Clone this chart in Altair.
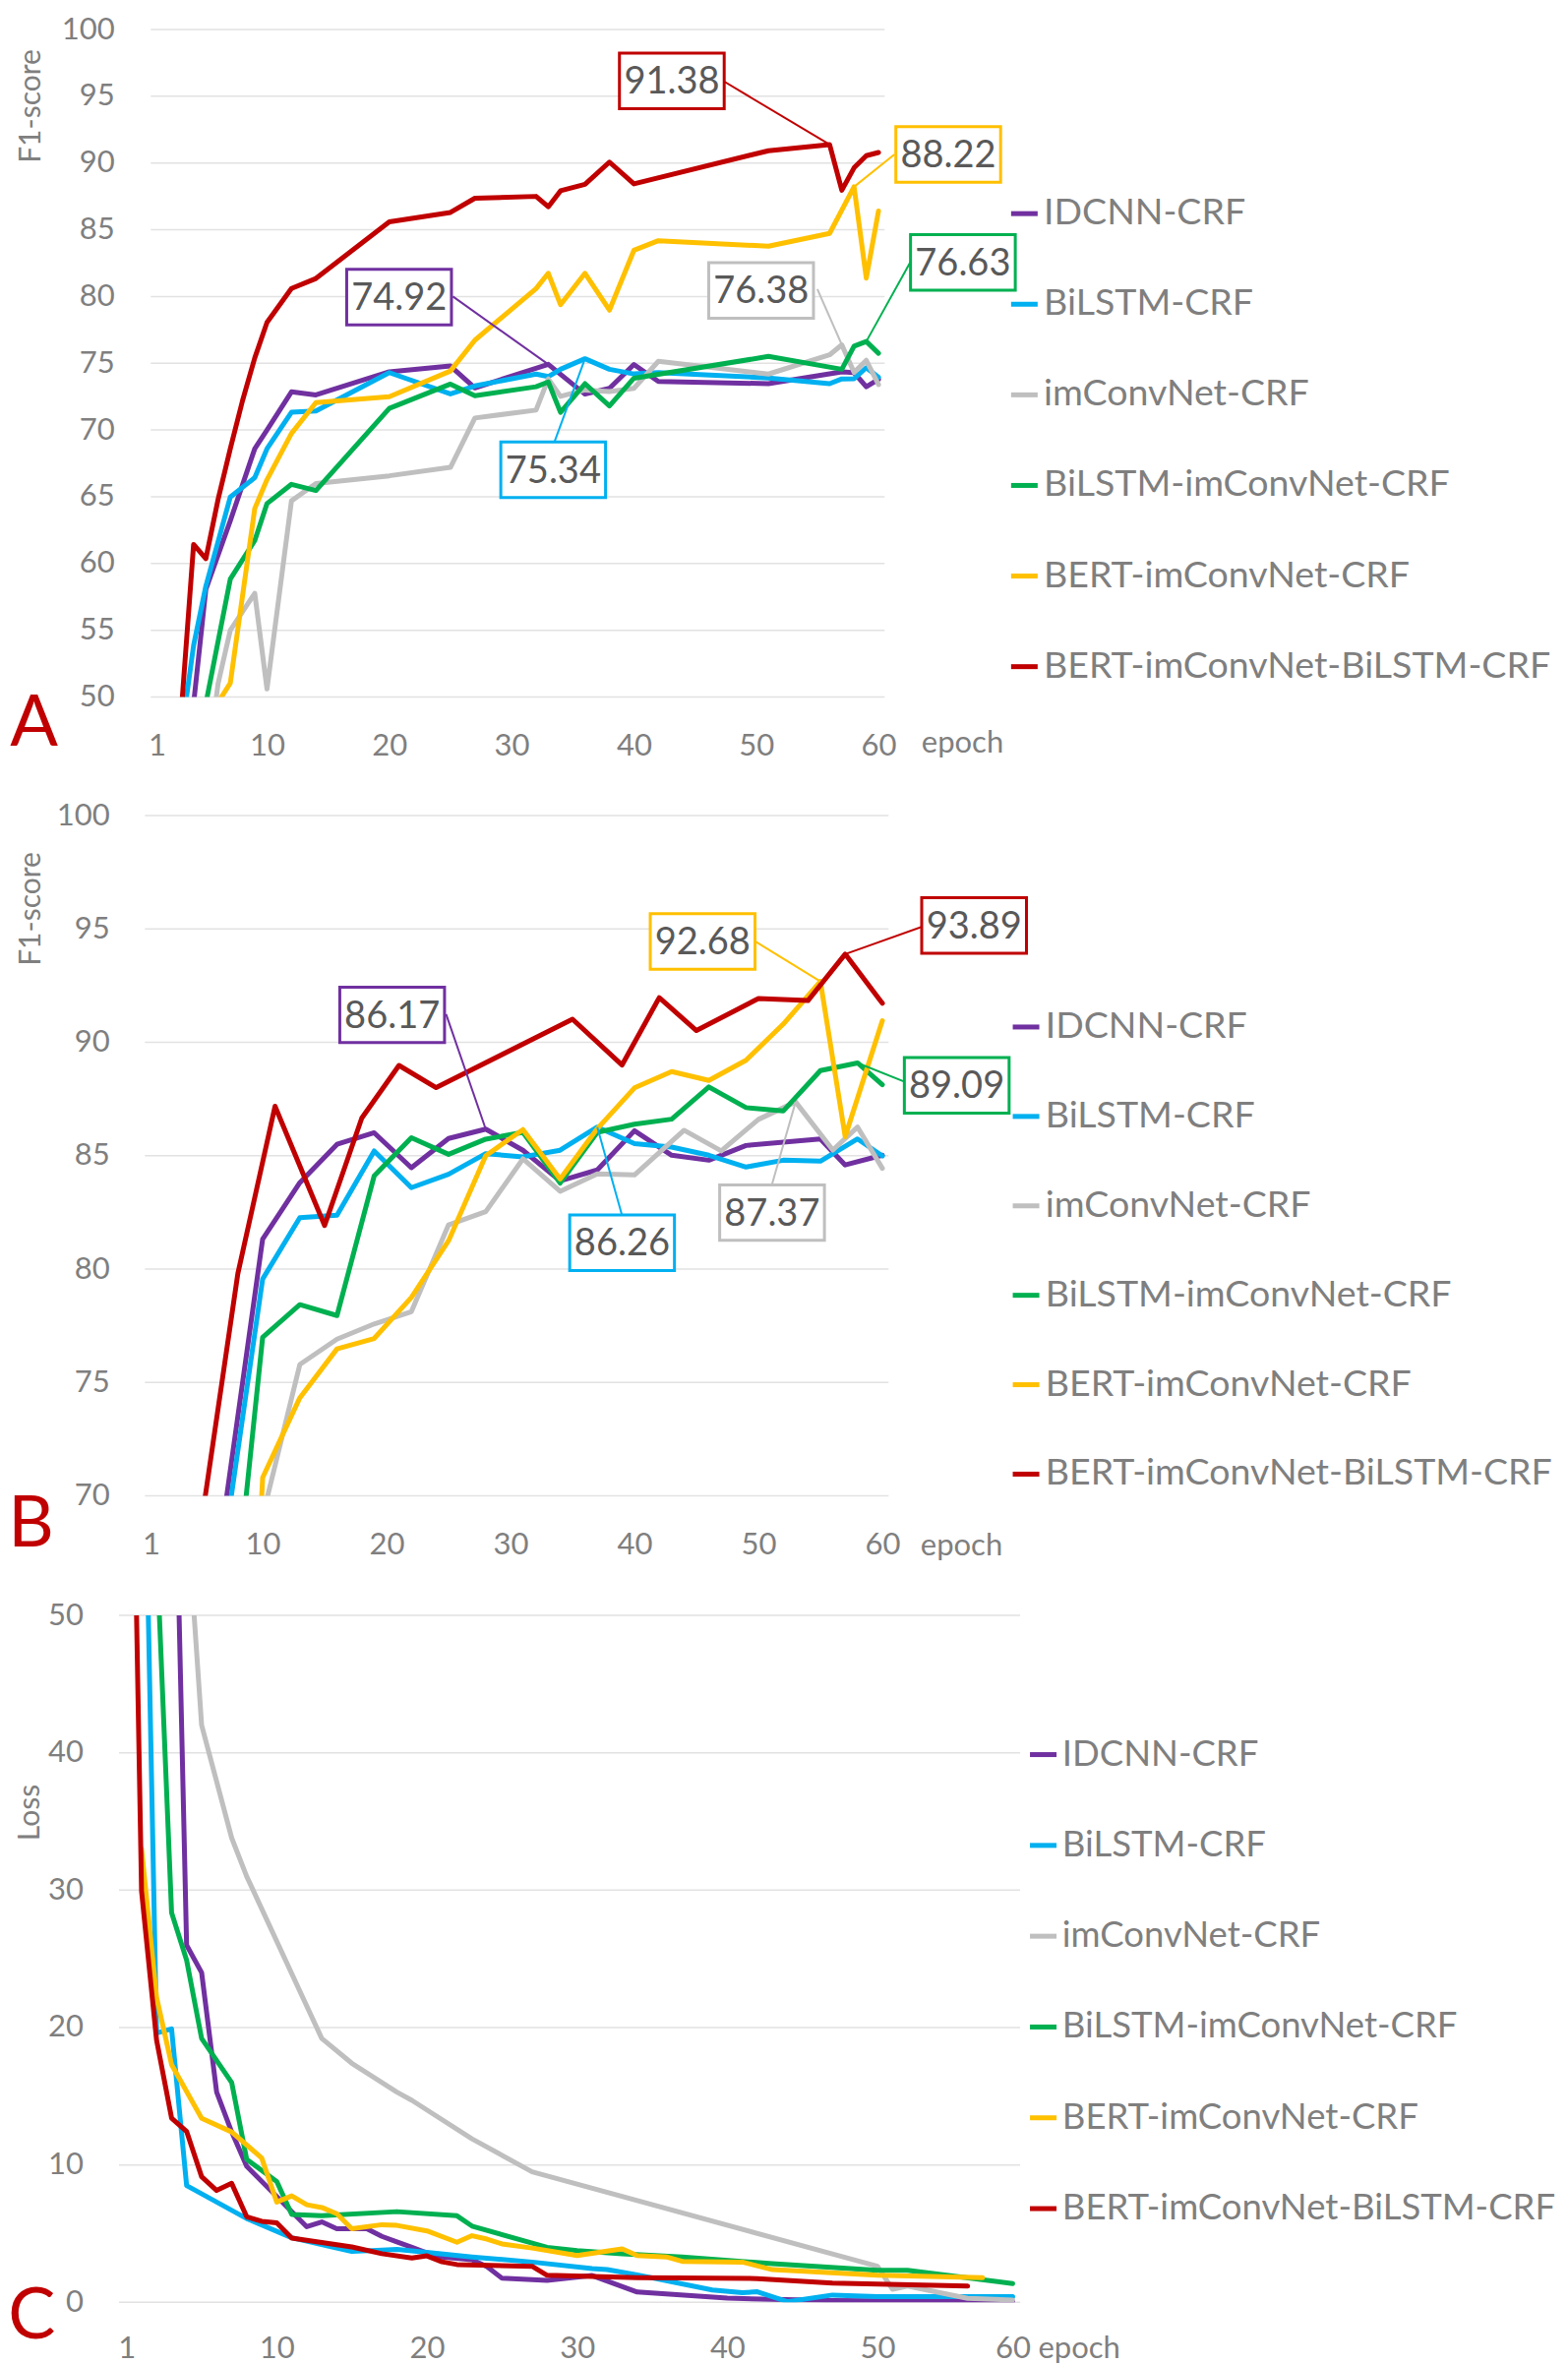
import altair as alt
import pandas as pd

FONT = "Lato"
SERIES = ["IDCNN-CRF", "BiLSTM-CRF", "imConvNet-CRF", "BiLSTM-imConvNet-CRF",
          "BERT-imConvNet-CRF", "BERT-imConvNet-BiLSTM-CRF"]
COLORS = ["#7030A0", "#00B0F0", "#BFBFBF", "#00B050", "#FFC000", "#C00000"]

# ---------------- Panel A : F1-score ----------------
A_X_IDCNN = [4, 5, 7, 9, 10, 12, 14, 20, 25, 27, 33, 36, 38, 40, 42, 51, 57, 58, 59, 60]
A_Y_IDCNN = [49.5, 58.05, 63.2, 68.6, 70.0, 72.86, 72.63, 74.36, 74.79, 73.15, 74.92, 72.69, 73.12,
             74.91, 73.64, 73.47, 74.36, 74.3, 73.24, 73.8]
A_X_BILSTM = [3, 4, 5, 7, 9, 10, 12, 14, 20, 25, 27, 32, 33, 34, 36, 38, 40, 42, 51, 56, 57, 58, 59, 60]
A_Y_BILSTM = [47.2, 53.87, 58.3, 64.98, 66.43, 68.59, 71.33, 71.42, 74.3, 72.7, 73.3, 74.19, 74.0, 74.55,
              75.34, 74.55, 74.2, 74.3, 73.9, 73.47, 73.83, 73.84, 74.67, 73.95]
A_X_IMCONV = [5, 6, 7, 9, 10, 12, 14, 20, 25, 27, 32, 33, 34, 36, 38, 40, 42, 51, 56, 57, 58, 59, 60]
A_Y_IMCONV = [44.0, 51.0, 55.0, 57.77, 50.6, 64.69, 65.99, 66.57, 67.2, 70.9, 71.49, 73.83, 72.52, 73.0,
              72.88, 73.12, 75.15, 74.19, 75.63, 76.38, 74.31, 75.22, 73.4]
A_X_BIIM = [5, 7, 9, 10, 12, 14, 20, 25, 27, 32, 33, 34, 36, 38, 40, 51, 57, 58, 59, 60]
A_Y_BIIM = [49.5, 58.83, 61.72, 64.49, 65.93, 65.47, 71.62, 73.44, 72.57, 73.24, 73.6, 71.32, 73.47,
            71.8, 73.88, 75.51, 74.55, 76.28, 76.63, 75.75]
A_X_BERTIM = [6, 7, 9, 10, 12, 14, 20, 25, 27, 32, 33, 34, 36, 38, 40, 42, 51, 56, 58, 59, 60]
A_Y_BERTIM = [49.6, 51.04, 64.12, 66.28, 69.74, 72.05, 72.49, 74.42, 76.73, 80.59, 81.74, 79.39, 81.74,
              78.98, 83.46, 84.18, 83.77, 84.73, 88.22, 81.38, 86.41]
A_X_FULL = [3, 4, 5, 6, 7, 8, 9, 10, 12, 14, 20, 25, 27, 32, 33, 34, 36, 38, 40, 51, 56, 57, 58, 59, 60]
A_Y_FULL = [49.0, 61.43, 60.36, 64.8, 68.6, 72.2, 75.4, 78.06, 80.6, 81.35, 85.6, 86.3, 87.36, 87.5,
            86.72, 87.92, 88.4, 90.07, 88.44, 90.92, 91.38, 87.96, 89.64, 90.55, 90.79]

A_CALL_SERIES = ["BERT-imConvNet-BiLSTM-CRF", "IDCNN-CRF", "BiLSTM-CRF", "imConvNet-CRF",
                 "BERT-imConvNet-CRF", "BiLSTM-imConvNet-CRF"]
A_CALL_TEXT = ["91.38", "74.92", "75.34", "76.38", "88.22", "76.63"]
A_BOX_X = [43.1, 20.8, 33.4, 50.4, 65.7, 66.9]
A_BOX_Y = [96.15, 79.95, 67.02, 80.45, 90.64, 82.55]
A_LEAD_X = [47.3, 25.2, 33.5, 55.0, 61.3, 62.6]
A_LEAD_Y = [96.15, 80.0, 69.1, 80.55, 90.64, 82.57]
A_PT_X = [56, 33, 36, 57, 58, 59]
A_PT_Y = [91.38, 74.92, 75.34, 76.38, 88.22, 76.63]

# ---------------- Panel B : F1-score ----------------
B_X_IDCNN = [7, 10, 13, 16, 19, 22, 25, 28, 31, 34, 37, 40, 43, 46, 49, 55, 57, 60]
B_Y_IDCNN = [69.6, 81.32, 83.81, 85.5, 86.01, 84.47, 85.76, 86.17, 85.24, 83.89, 84.37, 86.1, 85.02,
             84.8, 85.45, 85.74, 84.59, 85.02]
B_X_BILSTM = [7, 10, 13, 16, 19, 22, 25, 28, 31, 34, 37, 40, 43, 46, 49, 52, 55, 58, 60]
B_Y_BILSTM = [68.2, 79.56, 82.27, 82.38, 85.21, 83.59, 84.18, 85.09, 84.95, 85.24, 86.26, 85.53, 85.38,
              85.02, 84.5, 84.8, 84.76, 85.74, 84.99]
B_X_IMCONV = [10, 13, 16, 19, 22, 25, 28, 31, 34, 37, 40, 44, 47, 50, 53, 56, 58, 60]
B_Y_IMCONV = [69.1, 75.79, 76.91, 77.58, 78.12, 81.95, 82.53, 84.86, 83.43, 84.2, 84.15, 86.12, 85.21,
              86.6, 87.37, 85.25, 86.26, 84.44]
B_X_BIIM = [7, 10, 13, 16, 19, 22, 25, 28, 31, 34, 37, 40, 43, 46, 49, 52, 55, 58, 60]
B_Y_BIIM = [61.2, 76.99, 78.43, 77.95, 84.11, 85.79, 85.06, 85.73, 86.03, 83.79, 86.03, 86.39, 86.61,
            88.03, 87.12, 86.97, 88.75, 89.09, 88.13]
B_X_BERTIM = [9, 10, 13, 16, 19, 22, 25, 28, 31, 34, 37, 40, 43, 46, 49, 52, 55, 57, 60]
B_Y_BERTIM = [60.0, 70.8, 74.32, 76.48, 76.94, 78.75, 81.25, 85.0, 86.15, 83.97, 86.19, 87.99, 88.71,
              88.32, 89.21, 90.8, 92.68, 85.84, 90.95]
B_X_FULL = [5, 8, 11, 15, 18, 21, 24, 35, 39, 42, 45, 50, 54, 57, 60]
B_Y_FULL = [68.6, 79.8, 87.18, 81.92, 86.66, 88.98, 88.0, 91.02, 89.0, 91.97, 90.52, 91.93, 91.84,
            93.89, 91.72]

B_CALL_SERIES = ["IDCNN-CRF", "BERT-imConvNet-CRF", "BERT-imConvNet-BiLSTM-CRF",
                 "BiLSTM-imConvNet-CRF", "BiLSTM-CRF", "imConvNet-CRF"]
B_CALL_TEXT = ["86.17", "92.68", "93.89", "89.09", "86.26", "87.37"]
B_BOX_X = [20.45, 45.5, 67.4, 66.0, 39.0, 51.1]
B_BOX_Y = [91.21, 94.45, 95.15, 88.1, 81.16, 82.49]
B_LEAD_X = [24.8, 49.8, 64.1, 61.9, 38.97, 51.1]
B_LEAD_Y = [91.24, 94.43, 95.27, 88.24, 82.42, 83.74]
B_PT_X = [28, 55, 57, 58, 37, 53]
B_PT_Y = [86.17, 92.68, 93.89, 89.09, 86.26, 87.37]

# ---------------- Panel C : Loss ----------------
C_X_IDCNN = [4, 5, 6, 7, 8, 9, 13, 14, 15, 17, 18, 19, 20, 21, 22, 24, 25, 26, 29, 32, 35, 41, 48, 60]
C_Y_IDCNN = [74.0, 26.0, 24.0, 15.3, 12.4, 9.9, 5.5, 5.85, 5.35, 5.35, 4.8, 4.4, 4.0, 3.6, 3.3, 3.1,
             2.6, 1.75, 1.6, 1.95, 0.75, 0.3, 0.12, 0.05]
C_X_BILSTM = [2, 3, 4, 5, 9, 12, 16, 19, 20, 24, 28, 32, 33, 35, 40, 42, 43, 45, 48, 51, 60]
C_Y_BILSTM = [75.0, 19.6, 19.9, 8.5, 6.1, 4.7, 3.7, 3.85, 3.75, 3.3, 2.93, 2.45, 2.38, 2.0, 0.9, 0.7,
              0.77, 0.05, 0.53, 0.41, 0.41]
C_X_IMCONV = [5, 6, 8, 9, 14, 16, 19, 20, 24, 28, 51, 52, 53, 57, 60]
C_Y_IMCONV = [58.0, 42.0, 33.8, 31.0, 19.2, 17.4, 15.3, 14.7, 11.9, 9.5, 2.62, 0.95, 1.18, 0.29, 0.17]
C_X_BIIM = [3, 4, 5, 6, 8, 9, 11, 12, 14, 19, 23, 24, 29, 31, 34, 38, 44, 51, 53, 60]
C_Y_BIIM = [55.0, 28.35, 24.9, 19.2, 16.0, 10.4, 8.8, 6.4, 6.3, 6.6, 6.3, 5.55, 4.0, 3.77, 3.53, 3.29,
            2.81, 2.33, 2.33, 1.37]
C_X_BERTIM = [2, 3, 4, 6, 8, 10, 11, 12, 13, 14, 15, 16, 18, 19, 21, 23, 24, 25, 26, 28, 31, 34, 35,
              37, 38, 42, 44, 51, 58]
C_Y_BERTIM = [33.0, 22.2, 17.3, 13.4, 12.4, 10.5, 7.3, 7.75, 7.1, 6.9, 6.45, 5.35, 5.65, 5.6, 5.2,
              4.37, 4.85, 4.6, 4.25, 3.95, 3.41, 3.89, 3.41, 3.29, 2.98, 2.93, 2.38, 1.97, 1.8]
C_X_FULL = [1, 2, 3, 4, 5, 6, 7, 8, 9, 10, 11, 12, 14, 16, 18, 20, 21, 22, 23, 28, 29, 35, 43, 48, 57]
C_Y_FULL = [90.0, 29.93, 19.08, 13.41, 12.44, 9.14, 8.14, 8.66, 6.23, 5.9, 5.78, 4.68, 4.35, 4.03,
            3.54, 3.22, 3.38, 2.95, 2.75, 2.62, 1.97, 1.8, 1.73, 1.4, 1.18]

AB_TICKS = [1, 10, 20, 30, 40, 50, 60]
C_TICK_POS = [1, 11, 21, 31, 41, 51, 60]
C_TICK_TEXT = ["1", "10", "20", "30", "40", "50", "60"]
EPOCH_RANGE = [0.5, 60.5]   # categories 1..60 span the gridlines

TXT_GRAY = "#7F7F7F"
NUM_GRAY = "#595959"
GRID = "#E2E2E2"
BOX_PATH = "M-1,-0.53H1V0.53H-1Z"


def lines_frame(xs_list, ys_list):
    rows = []
    for name, xs, ys in zip(SERIES, xs_list, ys_list):
        for i, (x, y) in enumerate(zip(xs, ys)):
            rows.append({"series": name, "epoch": x, "value": y, "ord": i})
    return pd.DataFrame(rows)


def callout_frame(series, text, bx, by, lx, ly, px, py):
    cmap = dict(zip(SERIES, COLORS))
    return pd.DataFrame({"series": series, "text": text, "bx": bx, "by": by, "lx": lx, "ly": ly,
                         "px": px, "py": py, "col": [cmap[s] for s in series]})


def panel(lines_df, call_df, c):
    xs = alt.Scale(domain=c["xdomain"], nice=False, zero=False)
    ys = alt.Scale(domain=c["ydomain"], nice=False, zero=False)
    xaxis = alt.Axis(values=c["xticks"], labelExpr=c["xexpr"], title="epoch", grid=False, ticks=False,
                     domain=False, labelFont=FONT, labelFontSize=31, labelColor=TXT_GRAY,
                     labelPadding=c["xlabpad"], labelFlush=False, labelOverlap=False,
                     titleFont=FONT, titleFontSize=31, titleFontWeight="normal", titleColor=TXT_GRAY,
                     titleX=c["epoch_x"], titleY=c["epoch_y"], titleAlign="left",
                     titleBaseline="alphabetic", titleAngle=0)
    yaxis = alt.Axis(values=c["yticks"], title=c["ytitle"], grid=False,
                     ticks=False, domain=False, labelFont=FONT, labelFontSize=31, labelColor=TXT_GRAY,
                     labelPadding=c["ylabpad"], labelFlush=False, labelOverlap=False,
                     titleFont=FONT, titleFontSize=30, titleFontWeight="normal", titleColor=TXT_GRAY,
                     titleX=c["ytitle_x"], titleY=c["ytitle_y"], titleAlign="center",
                     titleBaseline="alphabetic", titleAngle=270)

    def X(f):
        return alt.X(f, type="quantitative", scale=xs, axis=xaxis)

    def Y(f):
        return alt.Y(f, type="quantitative", scale=ys, axis=yaxis)

    legend = alt.Legend(orient="none", legendX=c["leg_x"], legendY=c["leg_y"], title=None,
                        direction="vertical", symbolType="stroke", symbolSize=729, symbolStrokeWidth=5,
                        labelFont=FONT, labelFontSize=c["leg_fs"], labelColor=TXT_GRAY, labelLimit=2000,
                        labelOffset=1, rowPadding=c["leg_pad"], padding=0, symbolOffset=0)

    grid_df = pd.DataFrame({"g": c["yticks"], "x0": EPOCH_RANGE[0], "x1": EPOCH_RANGE[1]})
    grid = alt.Chart(grid_df).mark_rule(color=GRID, strokeWidth=1.5).encode(
        y=Y("g"), x=X("x0"), x2=alt.X2("x1"))

    lines = alt.Chart(lines_df).mark_line(clip=True, strokeWidth=5, strokeJoin="round",
                                          strokeCap="round").encode(
        x=X("epoch"), y=Y("value"),
        color=alt.Color("series:N", scale=alt.Scale(domain=SERIES, range=COLORS), legend=legend,
                        sort=SERIES),
        order=alt.Order("ord:Q"),
    )
    layers = [grid, lines]
    if call_df is not None:
        lead = alt.Chart(call_df).mark_rule(strokeWidth=2).encode(
            x=X("lx"), y=Y("ly"), x2=alt.X2("px"), y2=alt.Y2("py"),
            stroke=alt.Stroke("col:N", scale=None))
        box = alt.Chart(call_df).mark_point(shape=BOX_PATH, size=106.5 ** 2, filled=True, fill="white",
                                            fillOpacity=1, opacity=1, strokeWidth=3).encode(
            x=X("bx"), y=Y("by"), stroke=alt.Stroke("col:N", scale=None))
        txt = alt.Chart(call_df).mark_text(font=FONT, fontSize=38, color=NUM_GRAY, align="center",
                                           baseline="middle", dy=2).encode(
            x=X("bx"), y=Y("by"), text="text:N")
        layers += [lead, box, txt]
    letter = alt.Chart(pd.DataFrame({"t": [c["letter"]]})).mark_text(
        font=FONT, fontSize=72, color="#C00000", align="left", baseline="alphabetic").encode(
        x=alt.value(c["letter_x"]), y=alt.value(c["letter_y"]), text="t:N")
    layers.append(letter)
    return alt.layer(*layers).properties(width=c["width"], height=c["height"])


dfA = lines_frame([A_X_IDCNN, A_X_BILSTM, A_X_IMCONV, A_X_BIIM, A_X_BERTIM, A_X_FULL],
                  [A_Y_IDCNN, A_Y_BILSTM, A_Y_IMCONV, A_Y_BIIM, A_Y_BERTIM, A_Y_FULL])
dfB = lines_frame([B_X_IDCNN, B_X_BILSTM, B_X_IMCONV, B_X_BIIM, B_X_BERTIM, B_X_FULL],
                  [B_Y_IDCNN, B_Y_BILSTM, B_Y_IMCONV, B_Y_BIIM, B_Y_BERTIM, B_Y_FULL])
dfC = lines_frame([C_X_IDCNN, C_X_BILSTM, C_X_IMCONV, C_X_BIIM, C_X_BERTIM, C_X_FULL],
                  [C_Y_IDCNN, C_Y_BILSTM, C_Y_IMCONV, C_Y_BIIM, C_Y_BERTIM, C_Y_FULL])
callA = callout_frame(A_CALL_SERIES, A_CALL_TEXT, A_BOX_X, A_BOX_Y, A_LEAD_X, A_LEAD_Y, A_PT_X, A_PT_Y)
callB = callout_frame(B_CALL_SERIES, B_CALL_TEXT, B_BOX_X, B_BOX_Y, B_LEAD_X, B_LEAD_Y, B_PT_X, B_PT_Y)

c_expr = "".join(f"datum.value == {p} ? '{t}' : " for p, t in zip(C_TICK_POS, C_TICK_TEXT)) + "datum.label"

# all three plot areas share one left edge; A and B start their epoch range a little to the right
cfgA = dict(letter="A", width=778.3, height=678.5, xdomain=[-2.098, 60.5], ydomain=[50, 100],
            yticks=list(range(50, 101, 5)), ytitle="F1-score", ytitle_x=-81, ytitle_y=77.5,
            xticks=AB_TICKS, xexpr="datum.label", xlabpad=34.7, ylabpad=4.7, epoch_x=815.3, epoch_y=56,
            letter_x=-110.7, letter_y=727.5, leg_x=901.6, leg_y=168.4, leg_pad=53.1, leg_fs=37.5)
cfgB = dict(letter="B", width=782.3, height=691.5, xdomain=[-1.587, 60.5], ydomain=[70, 100],
            yticks=list(range(70, 101, 5)), ytitle="F1-score", ytitle_x=-81, ytitle_y=94.5,
            xticks=AB_TICKS, xexpr="datum.label", xlabpad=35, ylabpad=9.7, epoch_x=814.3, epoch_y=60,
            letter_x=-112.7, letter_y=743, leg_x=903.3, leg_y=196.2, leg_pad=51.9, leg_fs=37.5)
cfgC = dict(letter="C", width=916.1, height=698.3, xdomain=EPOCH_RANGE, ydomain=[0, 50],
            yticks=list(range(0, 51, 10)), ytitle="Loss", ytitle_x=-82, ytitle_y=200,
            xticks=C_TICK_POS, xexpr=c_expr, xlabpad=31.7, ylabpad=36.5, epoch_x=934, epoch_y=56,
            letter_x=-112.7, letter_y=735.3, leg_x=921.3, leg_y=123.3, leg_pad=55.3, leg_fs=36.5)

pA = panel(dfA, callA, cfgA)
pB = panel(dfB, callB, cfgB)
pC = panel(dfC, None, cfgC)

chart = alt.vconcat(pA, pB, pC, spacing=39).resolve_scale(
    color="independent").resolve_legend(color="independent").properties(
    padding={"left": 0, "top": 6, "right": 0, "bottom": 0}, background="white").configure_view(stroke=None)

chart.save("out.html", embed_options={"renderer": "svg", "actions": False})
